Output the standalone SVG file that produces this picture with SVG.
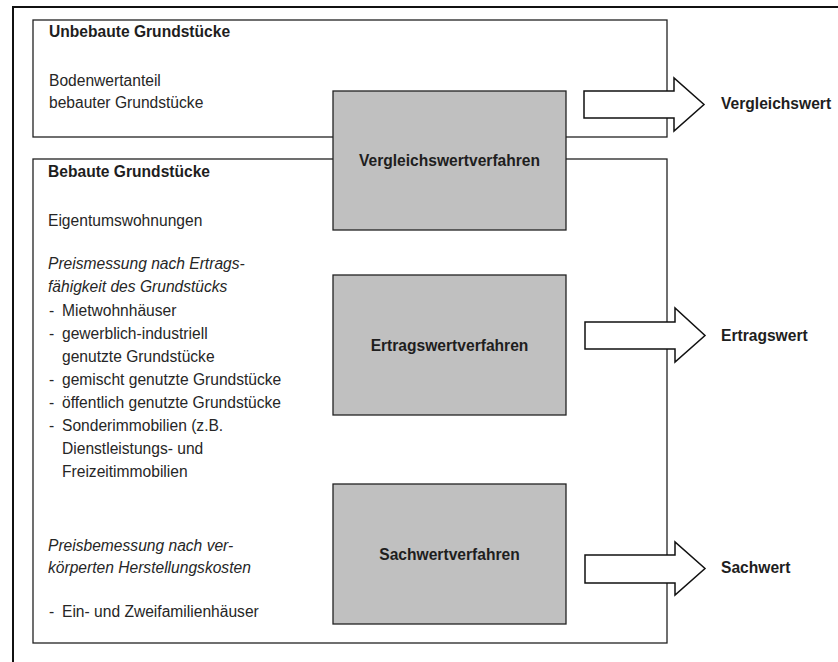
<svg xmlns="http://www.w3.org/2000/svg" width="838" height="662" viewBox="0 0 838 662">
<style>
  .box { fill: #ffffff; stroke: #222; stroke-width: 1.3; }
  .proc { fill: #c0c0c0; stroke: #222; stroke-width: 1.3; }
  .arrow { fill: #ffffff; stroke: #111; stroke-width: 1.5; stroke-linejoin: miter; }
  text { font-family: "Liberation Sans", Arial, sans-serif; font-size: 15.6px; fill: #262626; }
  .b { font-weight: bold; fill: #1e1e1e; }
  .i { font-style: italic; }
  .c { text-anchor: middle; }
</style>
<rect x="0" y="0" width="838" height="662" fill="#ffffff"/>
<g id="frame">
  <path d="M13,662 V7 H838" fill="none" stroke="#111" stroke-width="2"/>
</g>
<g id="unbebaute">
  <rect class="box" x="33" y="20" width="634" height="117"/>
  <text class="b" x="49" y="37">Unbebaute Grundstücke</text>
  <text x="49" y="86">Bodenwertanteil</text>
  <text x="49" y="108">bebauter Grundstücke</text>
</g>
<g id="bebaute">
  <rect class="box" x="33" y="159" width="634" height="484"/>
  <text class="b" x="48" y="177">Bebaute Grundstücke</text>
  <text x="48" y="226">Eigentumswohnungen</text>
  <text class="i" x="48" y="269">Preismessung nach Ertrags-</text>
  <text class="i" x="48" y="292">fähigkeit des Grundstücks</text>
  <text x="49" y="316">-</text><text x="62" y="316">Mietwohnhäuser</text>
  <text x="49" y="339">-</text><text x="62" y="339">gewerblich-industriell</text>
  <text x="62" y="362">genutzte Grundstücke</text>
  <text x="49" y="385">-</text><text x="62" y="385">gemischt genutzte Grundstücke</text>
  <text x="49" y="408">-</text><text x="62" y="408">öffentlich genutzte Grundstücke</text>
  <text x="49" y="431">-</text><text x="62" y="431">Sonderimmobilien (z.B.</text>
  <text x="62" y="454">Dienstleistungs- und</text>
  <text x="62" y="477">Freizeitimmobilien</text>
  <text class="i" x="48" y="551">Preisbemessung nach ver-</text>
  <text class="i" x="48" y="573">körperten Herstellungskosten</text>
  <text x="49" y="617">-</text><text x="62" y="617">Ein- und Zweifamilienhäuser</text>
</g>
<g id="vergleichswertverfahren">
  <rect class="proc" x="333" y="91" width="233" height="139"/>
  <text class="b c" x="449.5" y="166">Vergleichswertverfahren</text>
</g>
<g id="ertragswertverfahren">
  <rect class="proc" x="333" y="275" width="233" height="140"/>
  <text class="b c" x="449.5" y="351">Ertragswertverfahren</text>
</g>
<g id="sachwertverfahren">
  <rect class="proc" x="333" y="484" width="233" height="140"/>
  <text class="b c" x="449.5" y="560">Sachwertverfahren</text>
</g>
<g id="connectors">
  <polygon class="arrow" points="584,91 674,91 674,78 704,104.5 674,131 674,118 584,118"/>
  <polygon class="arrow" points="585,322 675,322 675,308 705,335.5 675,362 675,349 585,349"/>
  <polygon class="arrow" points="585,555 675,555 675,542 705,568.5 675,595 675,583 585,583"/>
</g>
<g id="vergleichswert">
  <text class="b" x="721" y="109">Vergleichswert</text>
</g>
<g id="ertragswert">
  <text class="b" x="721" y="341">Ertragswert</text>
</g>
<g id="sachwert">
  <text class="b" x="721" y="573">Sachwert</text>
</g>
</svg>
